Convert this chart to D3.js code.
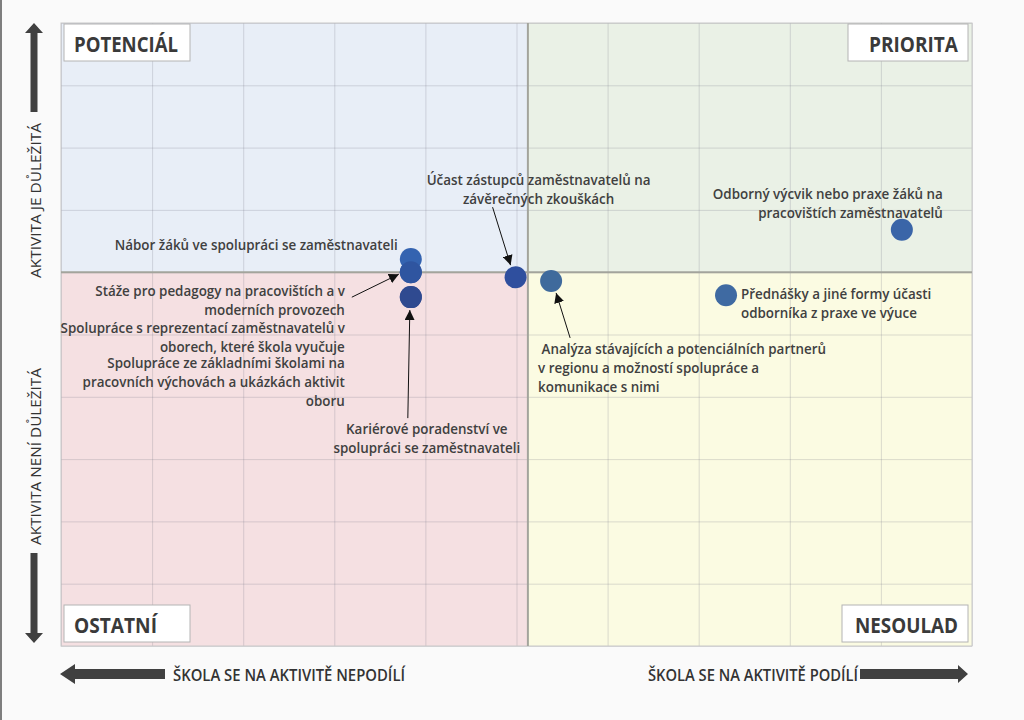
<!DOCTYPE html>
<html>
<head>
<meta charset="utf-8">
<script src="https://cdn.jsdelivr.net/npm/d3@7"></script>
<style>
  html, body { margin: 0; padding: 0; background: #fafafa; }
  svg { display: block; }
</style>
</head>
<body>
<svg id="chart" width="1024" height="720"></svg>
<script>
// ---------------- DATA ----------------
const activities = [
  "Spolupráce s reprezentací zaměstnavatelů v oborech, které škola vyučuje",
  "Spolupráce ze základními školami na pracovních výchovách a ukázkách aktivit oboru",
  "Nábor žáků ve spolupráci se zaměstnavateli",
  "Stáže pro pedagogy na pracovištích a v moderních provozech",
  "Kariérové poradenství ve spolupráci se zaměstnavateli",
  "Účast zástupců zaměstnavatelů na závěrečných zkouškách",
  "Analýza stávajících a potenciálních partnerů v regionu a možností spolupráce a komunikace s nimi",
  "Odborný výcvik nebo praxe žáků na pracovištích zaměstnavatelů",
  "Přednášky a jiné formy účasti odborníka z praxe ve výuce"
];
// participation of the school (x) and importance (y)
const participation = [3.84, 3.84, 3.84, 3.84, 3.84, 4.99, 5.38, 9.23, 7.30];
const importance    = [6.00, 5.60, 6.21, 6.00, 5.60, 5.92, 5.86, 6.68, 5.63];
// label lines as shown in the chart
const labelLines = [
  ["Spolupráce s reprezentací zaměstnavatelů v", "oborech, které škola vyučuje"],
  ["Spolupráce ze základními školami na", "pracovních výchovách a ukázkách aktivit", "oboru"],
  ["Nábor žáků ve spolupráci se zaměstnavateli"],
  ["Stáže pro pedagogy na pracovištích a v", "moderních provozech"],
  ["Kariérové poradenství ve", "spolupráci se zaměstnavateli"],
  ["Účast zástupců zaměstnavatelů na", "závěrečných zkouškách"],
  [" Analýza stávajících a potenciálních partnerů", "v regionu a možností spolupráce a", "komunikace s nimi"],
  ["Odborný výcvik nebo praxe žáků na", "pracovištích zaměstnavatelů"],
  ["Přednášky a jiné formy účasti", "odborníka z praxe ve výuce"]
];
const pointColors = ["#2f55a0", "#2f4a90", "#3463b0", "#2f55a0", "#2f4a90", "#2f4f9e", "#3f6a9c", "#3a65a8", "#3f6aa2"];
const quadrantNames = ["POTENCIÁL", "PRIORITA", "OSTATNÍ", "NESOULAD"];
const xSplit = 5.125;   // vertical divider value
const ySplit = 6;       // horizontal divider value
const yAxisTexts = ["AKTIVITA JE DŮLEŽITÁ", "AKTIVITA NENÍ DŮLEŽITÁ"];
const xAxisTexts = ["ŠKOLA SE NA AKTIVITĚ NEPODÍLÍ", "ŠKOLA SE NA AKTIVITĚ PODÍLÍ"];

// ---------------- LAYOUT (label offsets relative to point, px) ----------------
const labelLayout = [
  { dx: -66, dy: 61, anchor: "end" },
  { dx: -66, dy: 71, anchor: "end" },
  { dx: -13, dy: -9, anchor: "end" },
  { dx: -66, dy: 24, anchor: "end", arrow: [-59, 25, -12, 2] },
  { dx: 16, dy: 137, anchor: "middle", arrow: [-3, 121, -1, 13] },
  { dx: 23, dy: -92, anchor: "middle", arrow: [-23, -70, -5, -12] },
  { dx: -13, dy: 73, anchor: "start", arrow: [19, 57, 5, 12] },
  { dx: 41, dy: -31, anchor: "end" },
  { dx: 15, dy: 4, anchor: "start" }
];
const lineH = 18.8;

// ---------------- CHART ----------------
const svg = d3.select("#chart");
const W = 1024, H = 720;
const plot = { left: 61, right: 972, top: 23, bottom: 646 };

const x = d3.scaleLinear().domain([0, 10]).range([plot.left, plot.right]);
const y = d3.scaleLinear().domain([0, 10]).range([plot.bottom, plot.top]);

svg.append("rect").attr("width", W).attr("height", H).attr("fill", "#fafafa");
svg.append("line").attr("x1", 1).attr("x2", 1).attr("y1", 0).attr("y2", H)
  .attr("stroke", "#555").attr("stroke-width", 1.5);

// quadrants
const quads = [
  { x0: 0, x1: xSplit, y0: ySplit, y1: 10, fill: "#e8eef7" },
  { x0: xSplit, x1: 10, y0: ySplit, y1: 10, fill: "#eaf1e6" },
  { x0: 0, x1: xSplit, y0: 0, y1: ySplit, fill: "#f5e0e2" },
  { x0: xSplit, x1: 10, y0: 0, y1: ySplit, fill: "#fbfbe2" }
];
svg.append("g").selectAll("rect").data(quads).join("rect")
  .attr("x", d => x(d.x0)).attr("y", d => y(d.y1))
  .attr("width", d => x(d.x1) - x(d.x0)).attr("height", d => y(d.y0) - y(d.y1))
  .attr("fill", d => d.fill);

// grid via axes
const gx = svg.append("g").attr("transform", `translate(0,${plot.bottom})`)
  .call(d3.axisBottom(x).ticks(10).tickSize(-(plot.bottom - plot.top)).tickFormat(""));
const gy = svg.append("g").attr("transform", `translate(${plot.left},0)`)
  .call(d3.axisLeft(y).ticks(10).tickSize(-(plot.right - plot.left)).tickFormat(""));
[gx, gy].forEach(g => {
  g.select(".domain").remove();
  g.selectAll(".tick line").attr("stroke", "#7c7c8c").attr("stroke-opacity", 0.25).attr("stroke-width", 1);
});

// border
svg.append("rect").attr("x", plot.left).attr("y", plot.top)
  .attr("width", plot.right - plot.left).attr("height", plot.bottom - plot.top)
  .attr("fill", "none").attr("stroke", "#c8c8c8").attr("stroke-width", 1);

// dividers
svg.append("line").attr("x1", x(xSplit)).attr("x2", x(xSplit)).attr("y1", plot.top).attr("y2", plot.bottom)
  .attr("stroke", "#a3a49c").attr("stroke-width", 2);
svg.append("line").attr("x1", plot.left).attr("x2", plot.right).attr("y1", y(ySplit)).attr("y2", y(ySplit))
  .attr("stroke", "#a3a49c").attr("stroke-width", 2);

// quadrant label boxes
const boxes = [
  { name: quadrantNames[0], bx: plot.left + 3, by: plot.top + 1, w: 126, anchor: "start", tl: 104 },
  { name: quadrantNames[1], bx: plot.right - 4 - 120, by: plot.top + 1, w: 120, anchor: "end", tl: 89 },
  { name: quadrantNames[2], bx: plot.left + 3, by: plot.bottom - 41, w: 126, anchor: "start", tl: 83 },
  { name: quadrantNames[3], bx: plot.right - 4 - 126, by: plot.bottom - 41, w: 126, anchor: "end", tl: 103 }
];
const bg = svg.append("g").selectAll("g").data(boxes).join("g");
bg.append("rect").attr("x", d => d.bx).attr("y", d => d.by).attr("width", d => d.w).attr("height", 37)
  .attr("fill", "#ffffff").attr("stroke", "#b4b4b4").attr("stroke-width", 1);
bg.append("text")
  .attr("x", d => d.anchor === "start" ? d.bx + 10 : d.bx + d.w - 10 - d.tl)
  .attr("y", d => d.by + 28)
  .attr("font-family", "'Open Sans', sans-serif").attr("font-weight", 700).attr("font-size", 21)
  .attr("fill", "#3a3a3a")
  .attr("textLength", d => d.tl).attr("lengthAdjust", "spacingAndGlyphs")
  .text(d => d.name);

// arrow marker
const defs = svg.append("defs");
defs.append("marker").attr("id", "ah").attr("viewBox", "0 0 10 10").attr("refX", 10).attr("refY", 5)
  .attr("markerWidth", 10).attr("markerHeight", 10).attr("markerUnits", "userSpaceOnUse").attr("orient", "auto")
  .append("path").attr("d", "M0,0 L10,5 L0,10 Z").attr("fill", "#111");

// data
const data = activities.map((a, i) => ({
  name: a, px: x(participation[i]), py: y(importance[i]),
  lines: labelLines[i], color: pointColors[i], lay: labelLayout[i]
}));

// annotation arrows
svg.append("g").selectAll("line").data(data.filter(d => d.lay.arrow)).join("line")
  .attr("x1", d => d.px + d.lay.arrow[0]).attr("y1", d => d.py + d.lay.arrow[1])
  .attr("x2", d => d.px + d.lay.arrow[2]).attr("y2", d => d.py + d.lay.arrow[3])
  .attr("stroke", "#111").attr("stroke-width", 1).attr("marker-end", "url(#ah)");

// points
svg.append("g").selectAll("circle").data(data).join("circle")
  .attr("cx", d => d.px).attr("cy", d => d.py).attr("r", 11)
  .attr("fill", d => d.color);

// labels
const lg = svg.append("g").selectAll("text").data(data).join("text")
  .attr("font-family", "'Open Sans', sans-serif").attr("font-weight", 600).attr("font-size", 13.4)
  .attr("fill", "#404040")
  .attr("text-anchor", d => d.lay.anchor)
  .attr("xml:space", "preserve");
lg.each(function(d) {
  const t = d3.select(this);
  d.lines.forEach((ln, k) => {
    t.append("tspan").attr("x", d.px + d.lay.dx).attr("y", d.py + d.lay.dy + k * lineH).text(ln);
  });
});

// axis arrows (left)
const arrowFill = "#404040";
svg.append("path").attr("d", "M34,23 L43,33 L37.5,33 L37.5,112 L30.5,112 L30.5,33 L25,33 Z").attr("fill", arrowFill);
svg.append("path").attr("d", "M34,643 L43,633 L37.5,633 L37.5,553 L30.5,553 L30.5,633 L25,633 Z").attr("fill", arrowFill);
// bottom arrows
svg.append("path").attr("d", "M60,674 L75,664 L75,669 L165,669 L165,679 L75,679 L75,684 Z").attr("fill", arrowFill);
svg.append("path").attr("d", "M968,674 L958,665 L958,669 L860,669 L860,679 L958,679 L958,683 Z").attr("fill", arrowFill);

// axis texts
svg.append("text").attr("transform", "translate(40.5,200.5) rotate(-90)")
  .attr("text-anchor", "middle").attr("font-family", "'Open Sans', sans-serif").attr("font-size", 15)
  .attr("fill", "#333").attr("textLength", 155).attr("lengthAdjust", "spacingAndGlyphs").text(yAxisTexts[0]);
svg.append("text").attr("transform", "translate(40.5,456.5) rotate(-90)")
  .attr("text-anchor", "middle").attr("font-family", "'Open Sans', sans-serif").attr("font-size", 15)
  .attr("fill", "#333").attr("textLength", 177).attr("lengthAdjust", "spacingAndGlyphs").text(yAxisTexts[1]);
svg.append("text").attr("x", 173).attr("y", 681)
  .attr("font-family", "'Open Sans', sans-serif").attr("font-size", 16).attr("font-weight", 600)
  .attr("fill", "#333").attr("textLength", 232).attr("lengthAdjust", "spacingAndGlyphs").text(xAxisTexts[0]);
svg.append("text").attr("x", 648).attr("y", 681)
  .attr("font-family", "'Open Sans', sans-serif").attr("font-size", 16).attr("font-weight", 600)
  .attr("fill", "#333").attr("textLength", 210).attr("lengthAdjust", "spacingAndGlyphs").text(xAxisTexts[1]);
</script>
</body>
</html>
